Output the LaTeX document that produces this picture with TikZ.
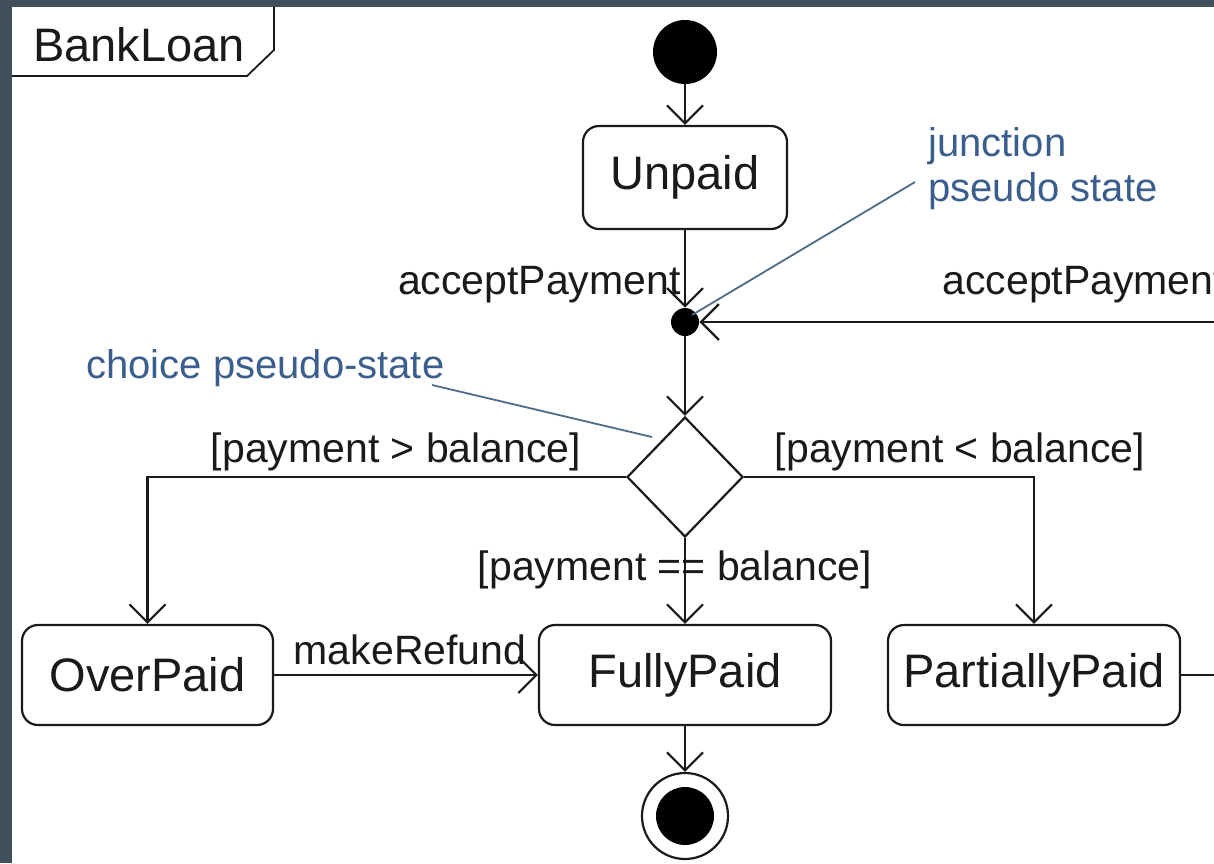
\documentclass[tikz,border=0pt]{standalone}
\usepackage{fontspec}
\setmainfont{Liberation Sans}
\usetikzlibrary{arrows.meta,shapes.geometric}
\definecolor{slate}{HTML}{3F505B}
\definecolor{noteblue}{HTML}{3B5E8C}
\definecolor{noteline}{HTML}{4E6B88}
\definecolor{ink}{HTML}{1A1A1A}
\begin{document}
\begin{tikzpicture}[x=0.5pt,y=-0.5pt,
  statebox/.style={draw=ink, line width=1.1pt, rounded corners=8pt, fill=white, inner sep=0pt,
    font=\fontsize{23.5}{28}\selectfont, text=ink},
  lbl/.style={font=\fontsize{20.5}{24}\selectfont, text=ink, inner sep=0pt},
  notelbl/.style={font=\fontsize{20}{22.5}\selectfont, text=noteblue, inner sep=0pt, align=left},
  conn/.style={draw=ink, line width=1.1pt, -{Straight Barb[length=9pt,width=18pt,line width=1.1pt]}},
  plainconn/.style={draw=ink, line width=1.1pt},
  noteconn/.style={draw=noteline, line width=0.9pt},
  dot/.style={circle, fill=black, inner sep=0pt}]
\useasboundingbox (0,0) rectangle (1214,863);
\fill[slate] (0,0) rectangle (1214,863);
\fill[white] (12,7) rectangle (1214,863);
% frame tag
\draw[ink, line width=0.9pt] (274,7) -- (274,50) -- (247,76) -- (12,76);
\node[lbl, font=\fontsize{23.5}{28}\selectfont] (frame) at (139,45) {BankLoan};
% states
\node[dot, minimum size=32pt] (init) at (685,52) {};
\node[statebox, minimum width=102pt, minimum height=51.5pt] (unpaid) at (685,177.5) {Unpaid};
\node[dot, minimum size=14pt] (junc) at (685,322) {};
\node[draw=ink, line width=1.1pt, diamond, minimum width=58pt, minimum height=60pt, inner sep=0pt, fill=white] (choice) at (685,477) {};
\node[statebox, minimum width=125.5pt, minimum height=50pt] (over) at (147.5,675) {OverPaid};
\node[statebox, minimum width=146pt, minimum height=50pt] (fully) at (685,675) {FullyPaid};
\node[statebox, minimum width=146pt, minimum height=50pt] (partial) at (1034,675) {PartiallyPaid};
\node[circle, draw=ink, line width=1.1pt, minimum size=43pt, inner sep=0pt, fill=white] (final) at (685,816) {};
\node[dot, minimum size=29pt] (finalin) at (final.center) {};
\coordinate (rin) at (1214,322);
\coordinate (pout) at (1214,675);
% connectors
\draw[conn] (init) -- (unpaid);
\draw[conn] (unpaid) -- (junc);
\draw[conn] (rin) -- (junc);
\draw[conn] (junc) -- (choice);
\draw[conn] (choice.west) -| (over.north);
\draw[conn] (choice.east) -| (partial.north);
\draw[conn] (choice.south) -- (fully.north);
\draw[conn] (over.east) -- (fully.west);
\draw[plainconn] (partial.east) -- (pout);
\draw[conn] (fully.south) -- (final.north);
% labels
\node[lbl, anchor=east] (lap) at (681,285) {acceptPayment};
\begin{scope}
\clip (12,7) rectangle (1214,863);
\node[lbl, anchor=west] (rap) at (942,285) {acceptPayment};
\end{scope}
\node[lbl] (gt) at (396,452) {[payment > balance]};
\node[lbl] (lt) at (960,452) {[payment < balance]};
\node[lbl] (eq) at (675,570) {[payment == balance]};
\node[lbl] (refund) at (410,650) {makeRefund};
% notes
\node[notelbl, anchor=north west] (jnote) at (928,127) {junction\\pseudo state};
\node[notelbl, anchor=west] (cnote) at (86,368) {choice pseudo-state};
\coordinate (jn1) at (915,182);
\coordinate (jn2) at (692,315);
\coordinate (cn1) at (432,385);
\coordinate (cn2) at (652,437);
\draw[noteconn] (jn1) -- (jn2);
\draw[noteconn] (cn1) -- (cn2);
\end{tikzpicture}
\end{document}
